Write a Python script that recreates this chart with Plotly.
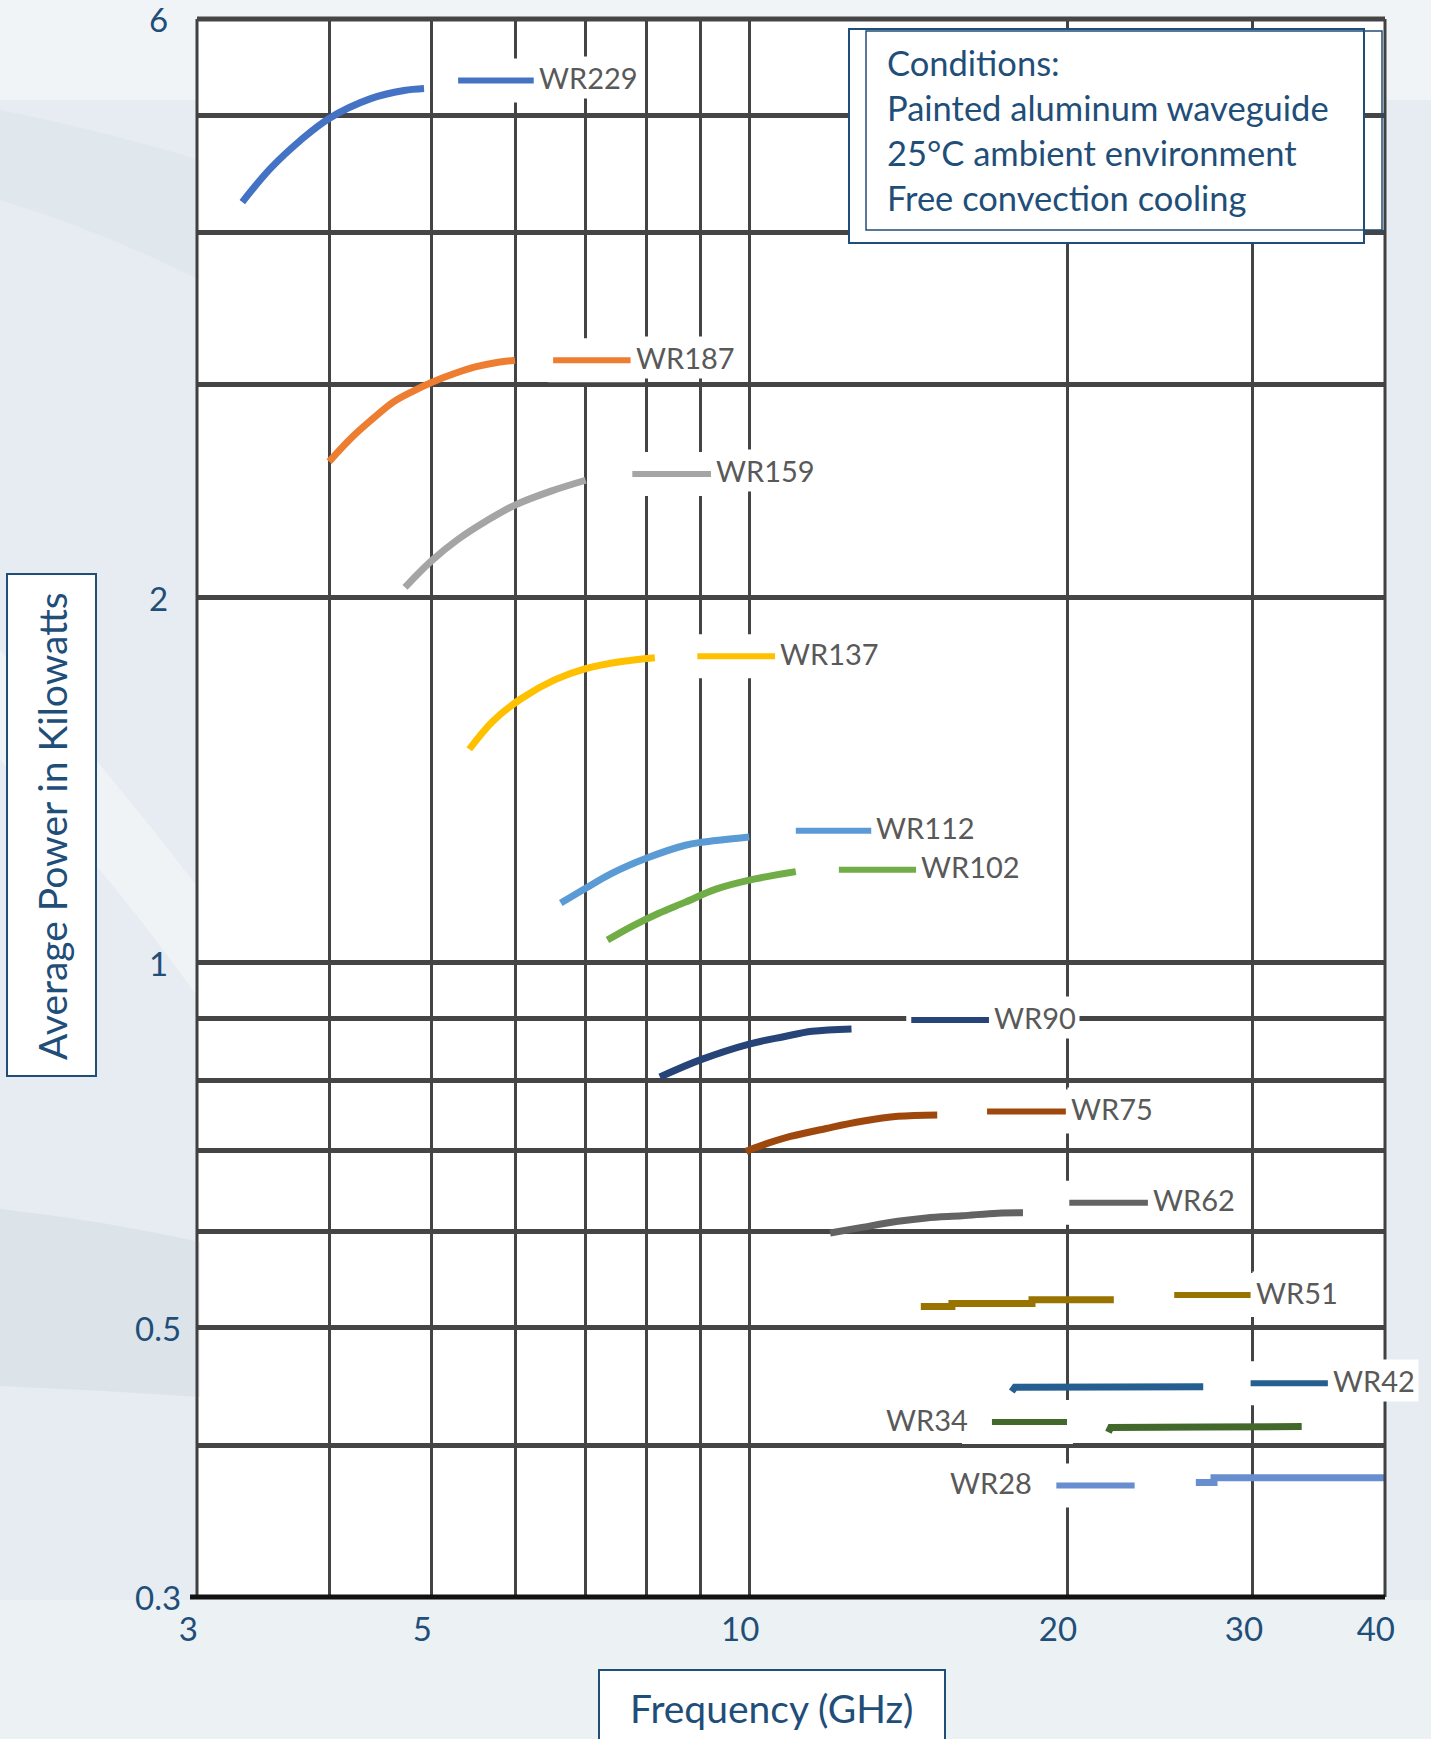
import math
import plotly.graph_objects as go

# ---------------- data ----------------
names = ["WR229", "WR187", "WR159", "WR137", "WR112", "WR102", "WR90",
         "WR75", "WR62", "WR51", "WR42", "WR34", "WR28"]
colors = ["#4472C4", "#ED7D31", "#A5A5A5", "#FFC000", "#5B9BD5", "#70AD47",
          "#264478", "#9E480E", "#636363", "#997300", "#255E91", "#43682B",
          "#698ED0"]

freq_wr229 = [3.31, 3.52, 3.76, 4.0, 4.38, 4.71, 4.92]
power_wr229 = [4.24, 4.52, 4.77, 4.97, 5.16, 5.24, 5.26]
freq_wr187 = [4.0, 4.2, 4.4, 4.6, 4.8, 5.0, 5.25, 5.5, 5.75, 6.0]
power_wr187 = [2.59, 2.71, 2.81, 2.90, 2.96, 3.01, 3.06, 3.10, 3.125, 3.14]
freq_wr159 = [4.72, 5.0, 5.3, 5.64, 6.0, 6.5, 7.0]
power_wr159 = [2.04, 2.145, 2.235, 2.315, 2.385, 2.45, 2.50]
freq_wr137 = [5.43, 5.72, 6.08, 6.54, 7.0, 7.57, 8.14]
power_wr137 = [1.50, 1.583, 1.651, 1.711, 1.748, 1.772, 1.785]
freq_wr112 = [6.63, 7.0, 7.41, 8.0, 8.70, 9.0, 10.0]
power_wr112 = [1.12, 1.152, 1.185, 1.22, 1.25, 1.257, 1.27]
freq_wr102 = [7.34, 7.75, 8.2, 8.7, 9.3, 10.1, 11.07]
power_wr102 = [1.044, 1.072, 1.098, 1.122, 1.15, 1.172, 1.189]
freq_wr90 = [8.23, 9.0, 10.0, 10.78, 11.47, 12.5]
power_wr90 = [0.805, 0.832, 0.857, 0.869, 0.878, 0.882]
freq_wr75 = [9.93, 10.28, 10.94, 11.83, 12.79, 13.83, 15.07]
power_wr75 = [0.699, 0.707, 0.719, 0.730, 0.740, 0.747, 0.749]
freq_wr62 = [11.93, 12.79, 13.83, 14.72, 15.91, 17.2, 18.17]
power_wr62 = [0.5985, 0.605, 0.612, 0.616, 0.6185, 0.6216, 0.622]
freq_wr51 = [14.54, 15.56, 18.53, 22.15]
power_wr51 = [0.5205, 0.5237, 0.5273, 0.5273]
freq_wr42 = [17.73, 17.85, 22.0, 26.92]
power_wr42 = [0.443, 0.4465, 0.4468, 0.4470]
freq_wr34 = [21.89, 22.0, 27.0, 33.37]
power_wr34 = [0.410, 0.4138, 0.4142, 0.4145]
freq_wr28 = [26.49, 27.56, 40.0]
power_wr28 = [0.3727, 0.376, 0.376]

series_freq = [freq_wr229, freq_wr187, freq_wr159, freq_wr137, freq_wr112,
               freq_wr102, freq_wr90, freq_wr75, freq_wr62, freq_wr51,
               freq_wr42, freq_wr34, freq_wr28]
series_power = [power_wr229, power_wr187, power_wr159, power_wr137,
                power_wr112, power_wr102, power_wr90, power_wr75, power_wr62,
                power_wr51, power_wr42, power_wr34, power_wr28]
series_shape = ["spline"] * 9 + ["hv", "linear", "linear", "hv"]

# label keys (short line + name): start / end frequency and power level
label_x0 = [5.30, 6.52, 7.75, 8.93, 11.07, 12.16, 14.24, 16.8, 20.1, 25.27,
            29.85, 16.98, 19.54]
label_x1 = [6.25, 7.72, 9.2, 10.58, 13.05, 14.39, 16.87, 19.95, 23.86, 29.85,
            35.33, 20.0, 23.18]
label_y = [5.34, 3.14, 2.53, 1.79, 1.285, 1.193, 0.897, 0.754, 0.634, 0.532,
           0.450, 0.418, 0.3706]
label_side = ["right"] * 11 + ["left", "left"]

x_tickvals = [3, 4, 5, 6, 7, 8, 9, 10, 20, 30, 40]
x_ticktext = ["3", "", "5", "", "", "", "", "10", "20", "30", "40"]
y_gridvals = [0.3, 0.4, 0.5, 0.6, 0.7, 0.8, 0.9, 1, 2, 3, 4, 5, 6]
y_labelvals = [0.3, 0.5, 1, 2, 6]
y_labeltext = ["0.3", "0.5", "1", "2", "6"]

conditions = ["Conditions:", "Painted aluminum waveguide",
              "25°C ambient environment", "Free convection cooling"]
x_title = "Frequency (GHz)"
y_title = "Average Power in Kilowatts"

# ---------------- layout geometry ----------------
W, H = 1431, 1739
ML, MR, MT, MB = 197, 46, 19, 142
PW, PH = W - ML - MR, H - MT - MB
XMIN, XMAX = 3, 40
YMIN, YMAX = 0.3, 6
NAVY = "#1F4E79"
FONT = "Lato"
EPS = 2e-4


def pxx(px):
    return (px - ML) / PW


def pxy(py):
    return (H - MB - py) / PH


def pt(px, py):
    return f"{pxx(px)},{pxy(py)}"


x_px_per_dec = PW / math.log10(XMAX / XMIN)
y_px_per_dec = PH / math.log10(YMAX / YMIN)

fig = go.Figure()

# white backing boxes behind the label keys (hide the gridlines there)
for i, name in enumerate(names):
    seg_px = math.log10(label_x1[i] / label_x0[i]) * x_px_per_dec
    if label_side[i] == "right":
        bx0, bx1 = -5, seg_px + 14
    else:
        bx0, bx1 = -30, seg_px + 6
    xa = label_x0[i] * 10 ** (bx0 / x_px_per_dec)
    xb = label_x0[i] * 10 ** (bx1 / x_px_per_dec)
    ya = label_y[i] * 10 ** (-22 / y_px_per_dec)
    yb = label_y[i] * 10 ** (22 / y_px_per_dec)
    fig.add_trace(go.Scatter(x=[xa, xb, xb, xa, xa], y=[ya, ya, yb, yb, ya],
                             mode="lines", fill="toself", fillcolor="white",
                             line=dict(width=0, color="white"),
                             hoverinfo="skip", showlegend=False))

for name, fx, py, col, shp in zip(names, series_freq, series_power, colors,
                                   series_shape):
    fig.add_trace(go.Scatter(x=fx, y=py, mode="lines", name=name,
                             line=dict(color=col, width=7, shape=shp),
                             hoverinfo="skip", showlegend=False))

annotations = []
for i, name in enumerate(names):
    fig.add_trace(go.Scatter(x=[label_x0[i], label_x1[i]],
                             y=[label_y[i], label_y[i]], mode="lines",
                             line=dict(color=colors[i], width=6),
                             hoverinfo="skip", showlegend=False))
    right = label_side[i] == "right"
    annotations.append(dict(
        x=math.log10(label_x1[i] if right else label_x0[i]),
        y=math.log10(label_y[i]), xref="x", yref="y",
        text=name, showarrow=False,
        xanchor="left" if right else "right", yanchor="middle",
        bgcolor="white", borderpad=3, xshift=1 if right else -20, yshift=3,
        font=dict(family=FONT, size=29, color="#595959")))

# y tick labels (placed on the y axis scale)
for v, t in zip(y_labelvals, y_labeltext):
    annotations.append(dict(x=pxx(158), y=math.log10(v), xref="paper",
                            yref="y", text=t, showarrow=False,
                            xanchor="center", yanchor="middle",
                            font=dict(family=FONT, size=33, color=NAVY)))

shapes = []
# soft background swooshes (paper area only)
shapes += [
    dict(type="rect", xref="paper", yref="paper", layer="below",
         x0=pxx(0), x1=pxx(W), y0=pxy(100), y1=pxy(0),
         fillcolor="rgba(255,255,255,0.45)", line=dict(width=0)),
    dict(type="path", xref="paper", yref="paper", layer="below",
         path=f"M {pt(0,110)} Q {pt(100,130)} {pt(200,160)} L {pt(200,280)}"
              f" Q {pt(100,230)} {pt(0,200)} Z",
         fillcolor="rgba(150,170,188,0.07)", line=dict(width=0)),
    dict(type="path", xref="paper", yref="paper", layer="below",
         path=f"M {pt(0,650)} Q {pt(100,760)} {pt(200,890)} L {pt(200,1000)}"
              f" Q {pt(100,860)} {pt(0,760)} Z",
         fillcolor="rgba(255,255,255,0.4)", line=dict(width=0)),
    dict(type="path", xref="paper", yref="paper", layer="below",
         path=f"M {pt(0,1209)} Q {pt(100,1220)} {pt(200,1242)} L {pt(200,1397)}"
              f" Q {pt(100,1390)} {pt(0,1386)} Z",
         fillcolor="rgba(150,170,188,0.12)", line=dict(width=0)),
    dict(type="rect", xref="paper", yref="paper", layer="below",
         x0=pxx(0), x1=pxx(W), y0=pxy(H), y1=pxy(1600),
         fillcolor="rgba(255,255,255,0.25)", line=dict(width=0)),
]

# plot border
shapes += [
    dict(type="line", xref="paper", yref="paper", x0=0, x1=0, y0=0, y1=1,
         line=dict(color="#404040", width=3), layer="above"),
    dict(type="line", xref="paper", yref="paper", x0=1, x1=1, y0=0, y1=1,
         line=dict(color="#404040", width=3), layer="above"),
    dict(type="line", xref="paper", yref="paper", x0=0, x1=1, y0=1, y1=1,
         line=dict(color="#454545", width=5), layer="above"),
    dict(type="line", xref="paper", yref="paper", x0=pxx(190), x1=1, y0=0,
         y1=0, line=dict(color="#111111", width=5), layer="above"),
]

# conditions box (double frame)
shapes.append(dict(type="rect", xref="paper", yref="paper", layer="above",
                   x0=pxx(849), x1=pxx(1364), y0=pxy(243), y1=pxy(29),
                   fillcolor="white", line=dict(color=NAVY, width=2)))
shapes.append(dict(type="rect", xref="paper", yref="paper", layer="above",
                   x0=pxx(866), x1=pxx(1382), y0=pxy(230), y1=pxy(31),
                   fillcolor="rgba(0,0,0,0)", line=dict(color=NAVY, width=1.5)))
annotations.append(dict(x=pxx(885), y=pxy(40), xref="paper", yref="paper",
                        xanchor="left", yanchor="top", align="left",
                        showarrow=False, text="<br>".join(conditions),
                        font=dict(family=FONT, size=34.5, color=NAVY)))

# axis title boxes
shapes.append(dict(type="rect", xref="paper", yref="paper", layer="above",
                   x0=pxx(7), x1=pxx(96), y0=pxy(1076), y1=pxy(574),
                   fillcolor="white", line=dict(color=NAVY, width=2)))
annotations.append(dict(x=pxx(52), y=pxy(826), xref="paper", yref="paper",
                        text=y_title, textangle=-90, showarrow=False,
                        xanchor="center", yanchor="middle",
                        font=dict(family=FONT, size=39, color=NAVY)))
shapes.append(dict(type="rect", xref="paper", yref="paper", layer="above",
                   x0=pxx(599), x1=pxx(945), y0=pxy(1760), y1=pxy(1670),
                   fillcolor="white", line=dict(color=NAVY, width=2)))
annotations.append(dict(x=pxx(772), y=pxy(1708), xref="paper", yref="paper",
                        text=x_title, showarrow=False,
                        xanchor="center", yanchor="middle",
                        font=dict(family=FONT, size=39, color=NAVY)))

fig.update_layout(
    width=W, height=H,
    margin=dict(l=ML, r=MR, t=MT, b=MB, pad=0, autoexpand=False),
    paper_bgcolor="#e6ecf1",
    plot_bgcolor="white",
    showlegend=False,
    shapes=shapes,
    annotations=annotations,
    xaxis=dict(type="log",
               range=[math.log10(XMIN) - EPS, math.log10(XMAX) + EPS],
               tickmode="array", tickvals=x_tickvals, ticktext=x_ticktext,
               showgrid=True, gridcolor="#444444", gridwidth=3,
               zeroline=False, showline=False, ticks="", automargin=False,
               ticklabelstandoff=10, ticklabelshift=-9,
               tickfont=dict(family=FONT, size=33, color=NAVY)),
    yaxis=dict(type="log",
               range=[math.log10(YMIN) - EPS, math.log10(YMAX) + EPS],
               tickmode="array", tickvals=y_gridvals,
               showticklabels=False,
               showgrid=True, gridcolor="#454545", gridwidth=5,
               zeroline=False, showline=False, ticks="", automargin=False),
)

fig.write_html("out.html")
